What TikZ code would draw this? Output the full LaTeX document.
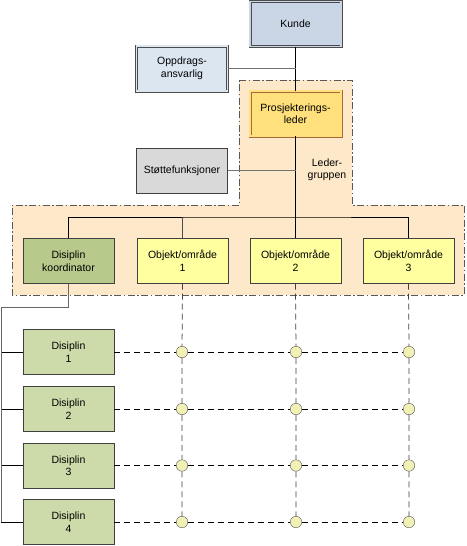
\documentclass[tikz,border=0pt]{standalone}
\usepackage{fontspec}
\setmainfont{Liberation Sans}
\usetikzlibrary{positioning}

\definecolor{regionfill}{HTML}{FDE9C9}
\definecolor{kundefill}{HTML}{CAD6E6}
\definecolor{oppdragfill}{HTML}{DCE6F1}
\definecolor{lederfill}{HTML}{FFE07C}
\definecolor{stottefill}{HTML}{D9D9D9}
\definecolor{koordfill}{HTML}{B7C98B}
\definecolor{objektfill}{HTML}{FFFFA0}
\definecolor{disiplinfill}{HTML}{CDDAAA}
\definecolor{knotfill}{HTML}{F1F1B6}

\begin{document}
\begin{tikzpicture}[x=1pt, y=-1pt, font=\fontsize{10.5}{12.5}\selectfont]

  \tikzstyle{box} = [draw=black!75, rectangle, align=center, minimum width=91, minimum height=45, inner sep=1]
  \tikzstyle{dbox} = [box, line width=0.7, double distance=1.6]
  \tikzstyle{knot} = [draw=black!65, fill=knotfill, circle, minimum size=11.5, inner sep=0]
  \tikzstyle{link} = [line width=0.7]
  \tikzstyle{matrixline} = [line width=0.75, dash pattern=on 6 off 4]

  \useasboundingbox[fill=white] (0,0) rectangle (466,546);

  \draw[fill=regionfill, draw=black!65, line width=0.7, dash pattern=on 7 off 2.5 on 1.5 off 2.5]
    (239,80) -- (352,80) -- (352,205) -- (464,205) -- (464,295) -- (12,295) -- (12,205) -- (239,205) -- cycle;

  \node[dbox, fill=kundefill, draw=black!70, double=kundefill] (kunde) at (295.5,24) {Kunde};
  \node[dbox, fill=oppdragfill, draw=black!70, double=oppdragfill] (oppdrag) at (182,68.5) {Oppdrags-\\ansvarlig};
  \node[dbox, fill=lederfill, draw=black!60!yellow!60!red, double=lederfill] (leder) at (295.5,113.5) {Prosjekterings-\\leder};
  \node[box, fill=stottefill] (stotte) at (182,170.5) {Støttefunksjoner};
  \node[align=center] (ledergruppen) at (327,170) {Leder-\\gruppen};

  \node[box, fill=koordfill] (koord) at (68.5,261) {Disiplin\\koordinator};
  \foreach \i/\x in {1/182.5, 2/295.5, 3/408.5}
    \node[box, fill=objektfill] (obj\i) at (\x,261) {Objekt/område\\\i};

  \coordinate (bus) at (295.5,217);
  \coordinate (spine) at (1,307);

  \draw[link] (kunde) -- (leder);
  \draw[link, black!55] (oppdrag.east) -- (oppdrag.east -| kunde.south);
  \draw[link] (leder) -- (obj2);
  \draw[link, black!55] (stotte.east) -- (stotte.east -| leder.south);
  \draw[link] (koord.north) |- (bus) -| (obj3.north);
  \draw[link, black!70] (obj1.north) -- (obj1.north |- bus);

  \foreach \k/\y in {1/352, 2/409, 3/465.5, 4/522} {
    \node[box, fill=disiplinfill] (dis\k) at (68.5,\y) {Disiplin\\\k};
    \foreach \i/\x in {1/182, 2/296, 3/409}
      \node[knot] (knot\i\k) at (\x,\y) {};
    \draw[link] (spine |- dis\k) -- (dis\k.west);
    \draw[matrixline] (dis\k.east) -- (knot1\k) -- (knot2\k) -- (knot3\k);
  }

  \draw[link, black!60] (koord.south) |- (spine) -- (spine |- dis4);

  \foreach \i in {1,2,3}
    \draw[matrixline, black!75] (obj\i.south) -- (knot\i1) -- (knot\i2) -- (knot\i3) -- (knot\i4);

\end{tikzpicture}
\end{document}
